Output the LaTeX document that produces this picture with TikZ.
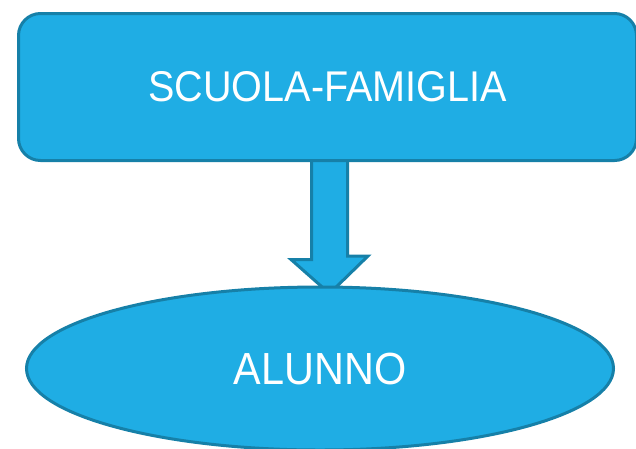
\documentclass[tikz,border=0pt]{standalone}
\usepackage{fontspec}
\setmainfont[FakeStretch=0.92]{Liberation Sans}
\usepackage{tikz}
\usetikzlibrary{shapes.geometric,positioning,calc}
\definecolor{myblue}{RGB}{31,173,228}
\definecolor{myborder}{RGB}{22,128,168}
\pgfdeclarelayer{background}
\pgfsetlayers{background,main}

\begin{document}
\begin{tikzpicture}[
  x=1pt,y=1pt,
  line width=3pt,
  mybox/.style={
    draw=myborder,
    fill=myblue,
    text=white,
    rounded corners=22pt,
    minimum width=618pt,
    minimum height=147pt,
    inner sep=0pt,
    font=\fontsize{43}{50}\selectfont
    },
  myoval/.style={
    ellipse,
    draw=myborder,
    fill=myblue,
    text=white,
    minimum width=587pt,
    minimum height=163pt,
    inner sep=0pt,
    font=\fontsize{45}{52}\selectfont
    },
  myarrow/.style={
    draw=myborder,
    fill=myblue,
    line width=3pt,
    line join=miter
  }
]
\useasboundingbox (0,0) rectangle (636,-448);

\node[mybox] (famiglia) at (327.5,-87) {SCUOLA-FAMIGLIA};
\node[myoval] (alunno) at (320,-368.5) {ALUNNO};

\begin{pgfonlayer}{background}
\draw[myarrow] ($(famiglia.south)+(-16,10)$) -- ++(0,-107.5) -- ++(-20.5,0)
  -- ($(alunno.north)+(9.5,-8)$) -- ++(38.5,37.5) -- ++(-20.5,0) -- ++(0,107.5) -- cycle;
\end{pgfonlayer}

\end{tikzpicture}
\end{document}
